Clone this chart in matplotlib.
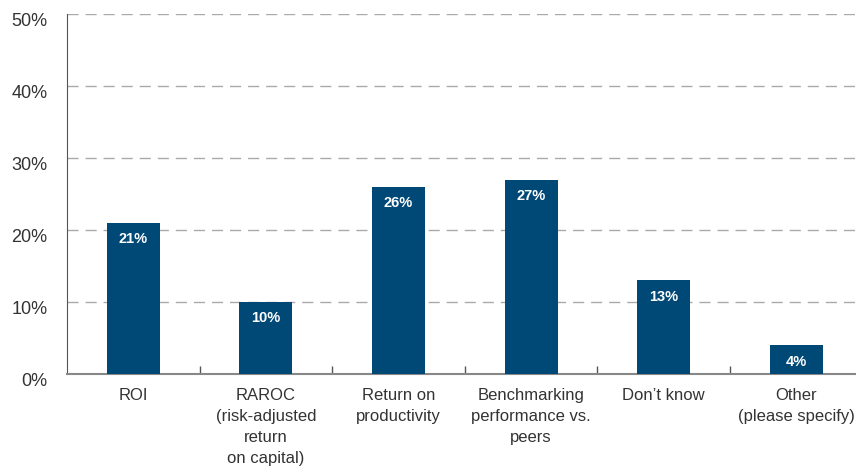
import numpy as np
import matplotlib.pyplot as plt
import matplotlib.transforms as mtransforms

plt.rcParams['font.family'] = ['Liberation Sans', 'DejaVu Sans']

categories = ['ROI', 'RAROC\n(risk-adjusted\nreturn\non capital)', 'Return on\nproductivity',
              'Benchmarking\nperformance vs.\npeers', 'Don\u2019t know', 'Other\n(please specify)']
values = [21, 10, 26, 27, 13, 4]
yticks = [0, 10, 20, 30, 40, 50]

# Figure and axes placement
fig = plt.figure(figsize=(8.56, 4.70), dpi=100)
ax = fig.add_axes([67 / 856, 96 / 470, 1 - 67 / 856, 360 / 470])

x = np.arange(len(categories))
ax.bar(x, values, width=0.4, color='#004876', zorder=3)

# Value labels inside the bars
for xi, v in zip(x, values):
    ax.text(xi, v - 1.3, f'{v}%', ha='center', va='top', color='white',
            fontsize=10.5, fontweight='bold', zorder=4)

ax.set_xlim(-0.5, 5.45)
ax.set_ylim(0, 50)
ax.set_yticks(yticks)
ax.set_yticklabels([f'{t}%' for t in yticks], fontsize=13, color='#333333')
ax.tick_params(axis='y', length=0, pad=14)

# y labels sit a little below their gridlines
offset = mtransforms.ScaledTranslation(0, -6 / 100, fig.dpi_scale_trans)
for lbl in ax.get_yticklabels():
    lbl.set_transform(lbl.get_transform() + offset)

# Category labels centred, ticks between categories
ax.set_xticks(x)
ax.set_xticklabels(categories, fontsize=12, color='#333333', linespacing=1.5)
ax.tick_params(axis='x', length=0, pad=10)
ax.set_xticks(np.arange(0.5, 5.0, 1), minor=True)
ax.tick_params(axis='x', which='minor', direction='in', length=6, color='#555555', width=1)

ax.grid(axis='y', linestyle=(0, (8, 5)), color='#aaaaaa', linewidth=1, zorder=0)

ax.spines['top'].set_visible(False)
ax.spines['right'].set_visible(False)
ax.spines['left'].set_color('#555555')
ax.spines['bottom'].set_color('#888888')
ax.spines['bottom'].set_linewidth(1.5)

plt.savefig('out.png', dpi=100)
